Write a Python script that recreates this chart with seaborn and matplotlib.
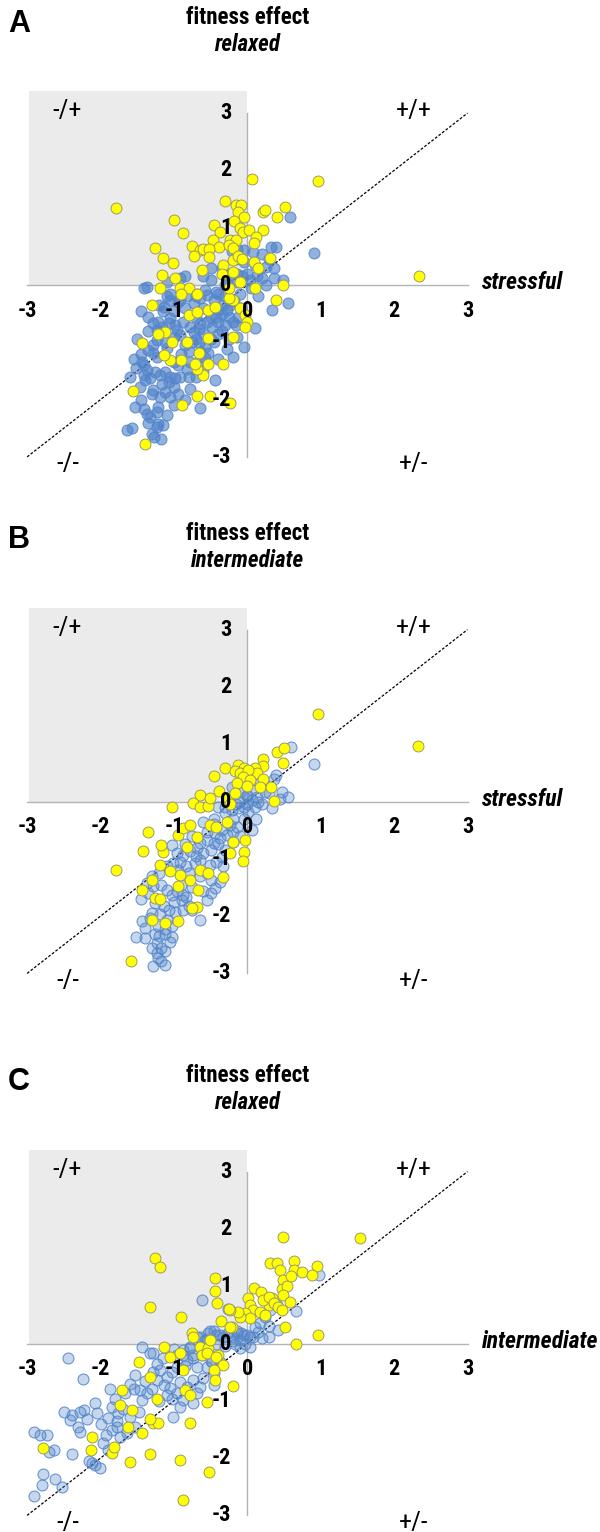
import matplotlib
matplotlib.use("Agg")
import matplotlib.pyplot as plt
from matplotlib import font_manager
from matplotlib.patches import Rectangle
import seaborn as sns

# ---- data (fitness effects, log scale) ----
a_blue_x = [0.58, 0.91, 0.32, 0.39, 0.08, -0.21, -0.14, -0.05, 0.20, 0.26, 0.37, 0.20, 0.36, 0.48,
            -0.60, -0.50, -0.92, -1.41, -1.36, -0.24, -0.14, -0.07, -0.01, 0.04, 0.13, -0.28, -0.14,
            -0.57, -0.43, -1.05, -1.09, 0.56, 0.33, -0.05, -0.14, -0.28, -0.44, -0.78, -0.65, -1.64,
            -1.57, -1.53, -1.41, -1.36, -1.33, -1.21, -1.23, -1.10, -1.21, -1.23, -1.27, -1.18, -1.46,
            -1.39, -1.33, -1.41, -1.36, -1.41, -1.51, -1.43, -1.26, -1.19, -1.12, -1.05, -0.98, -0.92,
            -1.16, -1.07, -1.00, -1.28, -1.19, -1.12, -1.05, -1.35, -1.28, -1.23, -1.28, -1.23, -1.12,
            -1.28, -1.21, -1.16, -1.23, -1.07, -1.05, -0.98, -0.96, -0.92, -1.00, -0.87, -0.78, -0.73,
            -0.66, -0.60, -0.64, -0.55, -0.48, -0.42, -0.35, -0.28, -0.24, -0.33, -0.39, -0.66, -0.57,
            -0.64, -0.53, -0.57, -0.78, -0.82, -0.64, -0.92, -0.82, -0.73, -0.64, -0.55, -0.46, -1.05,
            -1.14, -0.18, -0.08, -0.30, -0.12, -0.40, -0.30, -0.20, -0.50, -0.85, -0.75, -0.90, -1.00,
            -0.70, -0.85, -1.00, -0.95, -1.45, -1.35, -1.15, -1.00, -0.85, -0.70, -0.60, -0.50, -0.40,
            -0.25, -0.15, -0.35, -0.45, -0.25, -0.70, -0.80, -1.10, -1.45, -1.50, -1.35, -1.20, -0.95,
            -0.70, -0.40, -0.30, -0.10, 0.05, 0.15, 0.25, 0.30, 0.10, -0.05, -0.35, -0.50, -0.85,
            -1.10, -1.30, -1.45, -1.35, -1.15, -1.30, -1.60, -1.55, -0.95, -0.80, -0.60, -0.40, -0.20,
            0.10, -0.15]
a_blue_y = [1.19, 0.56, 0.66, 0.67, 0.58, 0.60, 0.62, 0.61, 0.54, 0.31, 0.29, 0.12, 0.12, 0.09,
            0.15, 0.08, 0.12, -0.06, -0.03, 0.17, 0.20, 0.15, 0.20, 0.09, 0.15, 0.03, 0.06,
            -0.09, -0.12, -0.15, -0.20, -0.32, -0.43, -1.09, -0.90, -1.11, -1.65, -1.82, -2.14, -2.53,
            -2.49, -2.13, -2.16, -2.26, -2.30, -2.13, -2.22, -2.27, -2.42, -2.48, -2.65, -2.68, -1.78,
            -1.66, -1.63, -1.57, -1.49, -1.40, -1.44, -1.34, -1.52, -1.57, -1.52, -1.60, -1.63, -1.60,
            -1.72, -1.69, -1.78, -1.84, -1.95, -1.87, -1.95, -1.14, -1.19, -1.25, -1.05, -0.96, -0.99,
            -0.67, -0.64, -0.73, -0.79, -0.67, -0.58, -0.70, -0.79, -0.87, -0.90, -0.64, -0.73, -0.82,
            -0.76, -0.84, -0.67, -0.64, -0.73, -0.55, -0.50, -0.44, -0.35, -0.35, -0.44, -1.02, -1.08,
            -1.17, -1.19, -1.28, -1.34, -1.46, -1.31, -0.26, -0.20, -0.32, -0.23, -0.17, -0.26, -0.26,
            -0.38, -0.28, -0.40, -0.20, -0.55, -0.85, -0.70, -0.65, -0.95, -1.05, -1.00, -1.20, -1.35,
            -1.60, -2.00, -2.10, -1.40, -0.45, -0.55, -0.45, -0.45, -0.40, -0.55, -0.40, -0.55, -0.65,
            -0.55, -0.70, -0.80, -1.00, -0.95, -0.95, -1.15, -1.10, -1.20, -0.95, -0.80, -0.35, -0.30,
            -0.20, -0.15, 0.00, -0.15, -0.05, -0.20, 0.00, 0.45, 0.35, 0.40, 0.30, 0.30, 0.15,
            0.05, -1.90, -2.00, -2.40, -2.45, -2.60, -1.60, -1.30, -1.90, -1.60, -1.50, -1.30, -1.25,
            -0.75, 0.45]
a_yellow_x = [-1.79, 0.06, 0.97, -0.30, -0.16, -0.09, -0.12, 0.22, 0.24, 0.51, 0.40, -0.04, -0.18,
              -1.00, -0.88, -0.46, -0.37, -0.47, -0.39, -0.10, -0.06, 0.02, 0.21, 0.12, 0.09, -0.24,
              -0.16, -0.25, -0.19, -1.26, -0.76, -0.64, -0.60, -0.52, -0.73, -0.52, -1.15, -1.01, -0.62,
              -0.33, -0.19, -0.12, -0.07, 0.09, 0.31, 0.15, -1.16, -0.99, -0.35, -0.19, 0.49, -1.19,
              -0.92, -0.80, -0.69, -1.30, -1.43, -1.56, -1.39, -0.89, -0.69, -0.51, -0.24, -0.33, -0.60,
              -0.68, -0.71, -0.53, -0.66, -0.91, -1.05, -1.13, -1.03, -0.82, -1.12, -1.21, -0.53, -0.19,
              -0.80, -0.69, -0.53, -0.44, -0.10, -0.03, 0.00, -0.03, -0.19, -0.25, 0.39, -0.90, -0.68,
              2.34, -0.10, -0.25, 0.10]
a_yellow_y = [1.34, 1.85, 1.82, 1.46, 1.40, 1.40, 1.28, 1.28, 1.31, 1.36, 1.18, 1.18, 1.12,
              1.14, 0.91, 1.05, 0.93, 0.79, 0.67, 0.99, 0.93, 0.96, 0.96, 0.83, 0.73, 0.79,
              0.79, 0.70, 0.64, 0.64, 0.68, 0.61, 0.62, 0.62, 0.50, 0.48, 0.47, 0.38, 0.26,
              0.35, 0.44, 0.50, 0.45, 0.41, 0.47, 0.29, 0.17, 0.12, 0.20, 0.23, 0.00, -0.05,
              -0.05, -0.05, -0.16, -0.35, -1.01, -1.85, -2.77, -2.10, -1.94, -1.94, -2.06, -1.38, -1.57,
              -1.46, -1.37, -1.38, -1.19, -1.31, -1.31, -1.22, -0.99, -0.99, -0.82, -0.85, -0.93, -0.90,
              -0.52, -0.47, -0.44, -0.38, -0.41, -0.52, -0.64, -0.74, -0.26, -0.23, -0.27, -0.16, -0.16,
              0.16, 0.05, -0.05, -0.05]

b_blue_x = [0.59, 0.91, 0.39, 0.36, 0.47, 0.56, 0.33, 0.17, 0.24, 0.13, 0.06, 0.06, -0.21, -0.10,
            -0.01, -0.21, -0.12, -0.05, 0.01, 0.06, -1.28, -1.12, -1.21, -1.17, -1.23, -1.12, -1.51,
            -1.39, -1.44, -1.26, -1.12, -1.03, -1.23, -1.17, -1.33, -1.19, -1.10, -1.21, -1.12, -1.03,
            -0.65, -1.26, -1.14, -1.07, -0.98, -0.87, -0.80, -1.37, -1.28, -1.17, -1.10, -1.03, -0.96,
            -0.87, -0.89, -0.83, -0.60, -0.55, -0.44, -0.49, -0.37, -1.10, -1.01, -0.92, -0.83, -0.71,
            -0.64, -0.51, -0.42, -0.60, -0.69, -0.78, -0.87, -0.96, -1.03, -0.64, -0.55, -0.46, -0.37,
            -0.28, -0.19, -0.14, -0.24, -0.35, -0.44, -0.55, -0.35, -0.33, -0.30, -0.15, 0.00, -0.05,
            0.10, 0.15, -0.45, -0.20, 0.12, -0.40, -1.45, -1.35, -1.30, -1.40, -1.20, -1.05, -1.30,
            -1.00, -0.90, -0.75, -0.65, -0.80, -0.95, -1.20, -1.30, -0.70, -0.50, -0.40, -0.30, -0.20,
            -0.10, -0.45, -0.60, -0.75, -0.85, -0.30, -0.10, 0.00, 0.20, 0.30, 0.45, -0.55, -0.50,
            -0.75]
b_blue_y = [0.95, 0.65, 0.47, 0.40, 0.17, 0.08, -0.12, 0.32, 0.17, 0.08, 0.20, 0.03, 0.26, 0.17,
            0.11, -0.15, -0.12, -0.09, -0.18, -0.50, -2.87, -2.86, -2.73, -2.79, -2.64, -2.61, -2.36,
            -2.38, -2.09, -2.32, -2.32, -2.36, -2.47, -2.55, -2.03, -1.97, -2.06, -2.18, -2.23, -2.18,
            -2.07, -1.77, -1.83, -1.89, -1.92, -1.89, -1.83, -1.42, -1.48, -1.45, -1.54, -1.63, -1.57,
            -1.63, -1.72, -1.66, -1.57, -1.72, -1.51, -1.37, -1.40, -1.13, -1.08, -1.05, -1.13, -1.08,
            -1.02, -1.11, -1.05, -0.90, -0.81, -0.87, -0.93, -0.90, -0.76, -0.73, -0.67, -0.73, -0.64,
            -0.58, -0.53, -0.44, -0.41, -0.50, -0.55, -0.53, -0.96, -1.13, -0.20, -0.05, -0.05, -0.30,
            -0.10, 0.00, -0.30, -0.30, -0.30, -0.10, -1.70, -1.60, -1.95, -2.20, -2.35, -2.45, -2.55,
            -1.75, -1.45, -1.50, -1.30, -1.25, -1.20, -1.25, -1.30, -0.95, -0.85, -0.75, -0.85, -0.70,
            -0.60, -0.40, -0.35, -0.60, -0.75, -0.10, 0.00, 0.10, -0.05, 0.15, 0.05, -1.25, -1.60,
            -1.90]
b_yellow_x = [0.97, 2.33, 0.40, 0.50, 0.49, 0.22, 0.21, 0.10, 0.13, -0.30, -0.46, -0.12, -0.04,
              -0.17, -0.10, 0.01, -0.06, 0.03, -0.14, -0.01, 0.21, 0.17, 0.32, -0.38, -0.64, -0.74,
              -0.64, -0.53, -0.51, -1.02, -0.26, -0.23, -0.17, 0.36, -1.79, -1.35, -1.42, -1.15, -1.17,
              -0.95, -0.88, -0.78, -0.69, -0.82, -1.19, -1.43, -1.26, -1.19, -0.95, -0.69, -0.65, -0.53,
              -0.33, -0.92, -1.58, -0.03, -0.05, -0.06, -0.24, -0.51, -0.42, -0.28, -0.19, -1.05, -0.94,
              -0.78, -0.67, -1.30, -0.76, -1.30, -1.12]
b_yellow_y = [1.52, 0.97, 0.87, 0.93, 0.67, 0.74, 0.62, 0.58, 0.49, 0.59, 0.45, 0.63, 0.59,
              0.54, 0.49, 0.55, 0.42, 0.37, 0.32, 0.27, 0.40, 0.25, 0.26, 0.19, 0.11, -0.02,
              -0.10, -0.08, 0.06, -0.09, 0.06, -0.04, 0.14, 0.01, -1.19, -0.53, -0.86, -0.88, -0.76,
              -0.58, -0.47, -0.41, -0.62, -0.79, -1.10, -1.55, -1.68, -1.70, -2.09, -1.84, -1.19, -1.25,
              -1.31, -1.28, -2.79, -0.68, -0.89, -1.03, -0.90, -0.41, -0.44, -0.35, -0.70, -1.22, -1.48,
              -1.37, -1.54, -1.37, -1.86, -2.06, -2.12]

c_blue_x = [0.98, 0.66, -0.62, 0.40, 0.31, 0.24, 0.17, 0.10, 0.42, 0.29, 0.20, 0.04, -0.05, -0.14,
            -0.10, -0.03, 0.04, -0.17, -0.10, -0.51, -0.42, -0.33, -0.58, -0.69, -0.64, -0.78, -0.87,
            -0.74, -0.26, -1.28, -2.44, -2.24, -2.91, -2.80, -2.53, -2.78, -2.62, -2.91, -2.82, -2.73,
            -2.64, -2.39, -2.39, -2.42, -2.28, -2.19, -2.28, -2.05, -2.08, -2.23, -2.12, -2.08, -2.01,
            -1.92, -1.96, -1.85, -1.78, -1.73, -1.64, -1.87, -1.80, -1.85, -1.76, -1.78, -1.67, -1.60,
            -1.53, -1.55, -1.46, -1.44, -1.37, -1.60, -1.48, -1.53, -1.44, -1.33, -1.23, -1.19, -1.10,
            -1.03, -0.96, -0.92, -1.28, -1.23, -1.14, -1.05, -1.03, -1.10, -0.96, -0.87, -0.92, -0.74,
            -0.69, -0.64, -0.82, -0.74, -1.01, -0.96, -0.87, -0.78, -0.82, -0.74, -0.62, -0.55, -0.48,
            -0.46, -0.55, -0.69, -0.37, -0.42, -0.55, -0.64, -0.53, -0.46, -0.37, -0.26, -0.19, -0.14,
            -0.08, -0.01, 0.08, -0.46, -2.70, -2.50, -2.30, -2.00, -1.90, -1.70, -1.40, -1.30, -1.20,
            -1.15, -1.00, -0.85, -0.60, -0.50, -0.30, -0.20, 0.15, 0.30, -2.15, -1.90]
c_blue_y = [1.20, 0.57, 0.76, 0.67, 0.58, 0.47, 0.35, 0.29, 0.24, 0.12, 0.09, 0.12, 0.15, 0.21,
            0.06, 0.00, -0.06, 0.00, -0.08, 0.21, 0.15, 0.12, 0.06, 0.12, -0.06, -0.08, -0.20,
            -0.20, 0.61, -0.17, -0.26, -0.62, -2.67, -2.47, -2.50, -2.27, -2.36, -1.54, -1.60, -1.60,
            -1.85, -1.92, -1.25, -1.34, -1.19, -1.31, -1.54, -1.22, -1.04, -1.16, -2.09, -2.12, -2.18,
            -1.60, -1.74, -1.51, -1.45, -1.63, -1.57, -0.79, -0.96, -1.10, -1.22, -1.36, -0.87, -0.70,
            -0.55, -0.79, -0.82, -0.99, -0.87, -1.28, -1.19, -1.45, -0.06, -0.17, -0.35, -0.46, -0.58,
            -0.49, -0.41, -0.67, -0.49, -0.64, -0.72, -0.78, -0.96, -0.90, -0.87, -0.99, -1.10, -1.04,
            -0.87, -0.76, -0.76, -0.64, -1.28, -0.20, -0.12, -0.06, -0.29, -0.26, -0.20, -0.12, -0.32,
            -0.52, -0.41, -0.41, -0.32, 0.00, 0.06, 0.12, 0.18, 0.21, 0.15, 0.18, 0.12, 0.18,
            0.18, 0.15, 0.12, -0.72, -1.90, -1.20, -1.45, -1.40, -1.30, -1.15, -0.65, -0.80, -1.00,
            -0.25, -0.10, -0.40, -0.60, -0.30, -0.05, 0.05, 0.20, 0.30, -2.05, -1.85]
c_yellow_x = [0.49, 1.53, -1.26, -1.19, 0.31, 0.41, 0.44, 0.63, 0.64, 0.75, 0.95, 0.88, 0.49, 0.47,
              0.54, 0.60, 0.48, 0.58, 0.33, 0.29, 0.09, 0.19, -0.44, -0.44, -0.41, -0.91, -1.33, 0.01,
              0.03, 0.08, -0.03, 0.04, -0.10, -0.12, -0.24, -0.25, -0.21, -0.24, -0.36, 0.22, 0.29,
              0.36, 0.42, 0.47, 0.17, 0.24, 0.51, 0.97, 0.66, -1.13, -0.76, -0.74, -0.64, -0.53, -0.51,
              -0.62, -0.40, -1.05, -0.92, -1.48, -1.33, -0.87, -1.23, -1.71, -1.73, -1.57, -1.62, -1.44,
              -1.28, -1.21, -1.33, -0.78, -0.55, -2.12, -2.13, -1.85, -1.82, -2.79, -1.60, -1.32, -0.92,
              -0.52, -0.87, -0.19, -0.55, -0.42, -0.33, -0.46, -0.44, -0.85, -0.78]
c_yellow_y = [1.85, 1.84, 1.50, 1.34, 1.41, 1.40, 1.29, 1.44, 1.28, 1.24, 1.35, 1.19, 1.11, 0.95,
              1.00, 1.17, 0.85, 0.73, 0.79, 0.67, 0.96, 0.90, 1.14, 0.92, 0.70, 0.47, 0.64, 0.79,
              0.67, 0.58, 0.53, 0.44, 0.47, 0.55, 0.58, 0.61, 0.29, 0.29, 0.40, 0.76, 0.82,
              0.70, 0.64, 0.58, 0.55, 0.50, 0.29, 0.15, -0.01, -0.06, 0.19, 0.12, -0.06, -0.08, 0.06,
              -0.20, -0.20, -0.23, -0.17, -0.32, -0.58, -0.47, -0.96, -0.81, -1.07, -1.16, -1.45, -1.57,
              -1.39, -1.39, -1.31, -1.39, -1.02, -1.63, -1.86, -1.91, -1.80, -1.83, -2.07, -1.92, -2.03,
              -2.24, -2.73, -0.74, -0.17, -0.23, -0.38, -0.46, -0.64, -0.81, -0.90]

panel_letters = ["A", "B", "C"]
title_second = ["relaxed", "intermediate", "relaxed"]
x_names = ["stressful", "stressful", "intermediate"]
ticks = [-3, -2, -1, 0, 1, 2, 3]
quadrants = ["-/+", "+/+", "-/-", "+/-"]

# ---- look ----
sns.set_style("white")
have = {f.name for f in font_manager.fontManager.ttflist}
narrow = None
for name in ["Liberation Sans Narrow", "Roboto Condensed", "DejaVu Sans Condensed"]:
    if name in have:
        narrow = name
        break
if narrow is None:
    narrow = "Liberation Sans" if "Liberation Sans" in have else "DejaVu Sans"
    k = 0.88      # wider face, shrink a little
else:
    k = 1.0
arial = "Liberation Sans" if "Liberation Sans" in have else "DejaVu Sans"
plt.rcParams["font.family"] = [narrow, "DejaVu Sans"]
plt.rcParams["text.color"] = "black"

W, H = 600, 1532
X0, XS, YS = 247.3, 73.4, 57.3       # pixel origin and pixels per unit
XL, YL = 3.35, 3.6                    # half ranges shown
axis_rows = [285, 801.5, 1343.5]      # pixel row of y=0 for each panel

blue_face = [(0.31, 0.51, 0.79, 0.62), (0.31, 0.51, 0.78, 0.32), (0.31, 0.51, 0.78, 0.32)]
blue_edge = (0.33, 0.53, 0.80, 0.85)
yellow_face = "#ffff00"
yellow_edge = "#9c9a66"
grey = "#b3b3b3"

fig = plt.figure(figsize=(W / 100, H / 100), dpi=100)

data = [(a_blue_x, a_blue_y, a_yellow_x, a_yellow_y),
        (b_blue_x, b_blue_y, b_yellow_x, b_yellow_y),
        (c_blue_x, c_blue_y, c_yellow_x, c_yellow_y)]

for i, (bx, by, yx, yy) in enumerate(data):
    y0 = axis_rows[i]
    ax = fig.add_axes([(X0 - XL * XS) / W, 1 - (y0 + YL * YS) / H,
                       2 * XL * XS / W, 2 * YL * YS / H])
    ax.set_xlim(-XL, XL)
    ax.set_ylim(-YL, YL)
    ax.patch.set_alpha(0)

    # grey quadrant
    ax.add_patch(Rectangle((-2.98, 0), 2.98, 3.38, facecolor="#ebebeb", edgecolor="none", zorder=0))

    # axes through the origin
    for s in ["top", "right"]:
        ax.spines[s].set_visible(False)
    for s in ["left", "bottom"]:
        ax.spines[s].set_position(("data", 0))
        ax.spines[s].set_bounds(-3, 3)
        ax.spines[s].set_color(grey)
        ax.spines[s].set_linewidth(1)
        ax.spines[s].set_zorder(0.5)
    ax.set_xticks(ticks)
    ax.set_yticks(ticks)
    ax.tick_params(direction="inout", length=11, width=1, color=grey,
                   labelleft=False, labelbottom=False)
    ax.set_axisbelow(True)

    # y = x reference
    ax.plot([-3, 3], [-3, 3], color="black", lw=0.9, ls=(0, (2.2, 1.4)), zorder=1.5)

    sns.scatterplot(x=bx, y=by, ax=ax, s=62, color=blue_face[i], edgecolor=blue_edge,
                    linewidth=0.8, zorder=2, legend=False)
    sns.scatterplot(x=yx, y=yy, ax=ax, s=62, color=yellow_face, edgecolor=yellow_edge,
                    linewidth=0.7, zorder=3, legend=False)

    for t in ticks:
        ax.text(t, -0.45, str(t), ha="center", va="center", fontsize=16 * k,
                fontweight="bold", zorder=5)
        ax.text(-0.22, t, str(t), ha="right", va="center", fontsize=16 * k,
                fontweight="bold", zorder=5)

    qpos = [(-2.45, 3.03), (2.27, 3.03), (-2.45, -3.13), (2.27, -3.13)]
    for q, (qx, qy) in zip(quadrants, qpos):
        ax.text(qx, qy, q, ha="center", va="center", fontsize=19 * k, zorder=5)

    ax.text(3.2, 0.04, x_names[i], ha="left", va="center", fontsize=17 * k,
            fontweight="bold", style="italic", clip_on=False)
    ax.text(0, 4.67, "fitness effect", ha="center", va="center", fontsize=16.5 * k,
            fontweight="bold", clip_on=False)
    ax.text(0, 4.2, title_second[i], ha="center", va="center", fontsize=16.5 * k,
            fontweight="bold", style="italic", clip_on=False)
    ax.text(-3.11, 4.56, panel_letters[i], ha="center", va="center", fontsize=22,
            fontweight="bold", family=[arial, "DejaVu Sans"], clip_on=False)

fig.savefig("out.png", dpi=100)
